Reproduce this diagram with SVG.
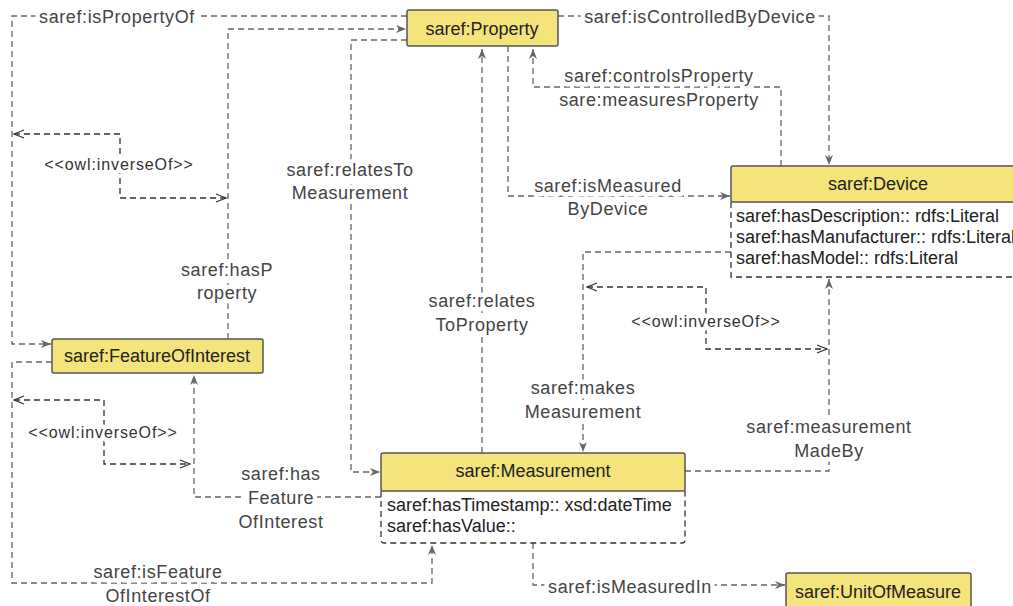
<svg xmlns="http://www.w3.org/2000/svg" width="1013" height="606" viewBox="0 0 1013 606">
<defs>
<marker id="arr" viewBox="0 0 10 10" refX="10" refY="5" markerWidth="10" markerHeight="10" markerUnits="userSpaceOnUse" orient="auto">
<path d="M0,1 L10,5 L0,9 L3,5 Z" fill="#666"/>
</marker>
<marker id="open" viewBox="0 0 12 10" refX="11" refY="5" markerWidth="12" markerHeight="10" markerUnits="userSpaceOnUse" orient="auto-start-reverse">
<path d="M1,1 L11,5 L1,9" fill="none" stroke="#333" stroke-width="1.3"/>
</marker>
<style>
.node{fill:#f5e47b;stroke:#555;stroke-width:1.5}
.body{fill:none;stroke:#333;stroke-width:1.3;stroke-dasharray:6 4}
.edge{fill:none;stroke:#666;stroke-width:1.3;stroke-dasharray:6 4;marker-end:url(#arr)}
.inv{fill:none;stroke:#333;stroke-width:1.3;stroke-dasharray:6 4;marker-start:url(#open);marker-end:url(#open)}
text{font-family:"Liberation Sans",Arial,sans-serif}
.nt{font-size:18px;fill:#222;text-anchor:middle}
.bt{font-size:18px;fill:#222}
.lb{font-size:18px;fill:#444;text-anchor:middle;letter-spacing:0.6px;paint-order:stroke;stroke:#fff;stroke-width:9px;stroke-linejoin:round}
.il{font-size:16px;fill:#333;text-anchor:middle;letter-spacing:0.9px;paint-order:stroke;stroke:#fff;stroke-width:9px;stroke-linejoin:round}
</style>
</defs>
<rect width="1013" height="606" fill="#fff"/>
<g id="connectors">
<path class="edge" d="M407,16 H12 V344 H51"/>
<path class="edge" d="M228,339 V29 H406"/>
<path class="edge" d="M407,40 H351 V472 H380"/>
<path class="edge" d="M482,453 V49"/>
<path class="edge" d="M508,46 V196 H730"/>
<path class="edge" d="M781,166 V87 H533 V49"/>
<path class="edge" d="M558,16 H829 V165"/>
<path class="edge" d="M731,252 H583 V452"/>
<path class="edge" d="M685,471 H829 V279"/>
<path class="edge" d="M381,497 H194 V375"/>
<path class="edge" d="M52,362 H12 V583 H432 V545"/>
<path class="edge" d="M533,543 V585 H785"/>
<path class="inv" d="M14,134 H120 V198 H226"/>
<path class="inv" d="M14,400 H104 V464 H190"/>
<path class="inv" d="M587,287 H706 V349 H827"/>
<text class="lb" x="117" y="23">saref:isPropertyOf</text>
<text class="lb" x="700" y="23">saref:isControlledByDevice</text>
<text class="lb" x="659" y="82">saref:controlsProperty</text>
<text class="lb" x="659" y="106">sare:measuresProperty</text>
<text class="lb" x="608" y="192">saref:isMeasured</text>
<text class="lb" x="608" y="215">ByDevice</text>
<text class="lb" x="350" y="176">saref:relatesTo</text>
<text class="lb" x="350" y="199">Measurement</text>
<text class="lb" x="227" y="276">saref:hasP</text>
<text class="lb" x="227" y="299">roperty</text>
<text class="lb" x="482" y="307">saref:relates</text>
<text class="lb" x="482" y="331">ToProperty</text>
<text class="lb" x="583" y="394">saref:makes</text>
<text class="lb" x="583" y="418">Measurement</text>
<text class="lb" x="829" y="433">saref:measurement</text>
<text class="lb" x="829" y="457">MadeBy</text>
<text class="lb" x="281" y="480">saref:has</text>
<text class="lb" x="281" y="504">Feature</text>
<text class="lb" x="281" y="528">OfInterest</text>
<text class="lb" x="158" y="578">saref:isFeature</text>
<text class="lb" x="158" y="602">OfInterestOf</text>
<text class="lb" x="630" y="593">saref:isMeasuredIn</text>
<text class="il" x="119" y="170">&lt;&lt;owl:inverseOf&gt;&gt;</text>
<text class="il" x="103" y="438">&lt;&lt;owl:inverseOf&gt;&gt;</text>
<text class="il" x="706" y="327">&lt;&lt;owl:inverseOf&gt;&gt;</text>
</g>
<g id="property">
<rect class="node" x="407" y="10" width="151" height="36" rx="2"/>
<text class="nt" x="482" y="35">saref:Property</text>
</g>
<g id="device">
<path class="body" d="M731,202 V277 H1020"/>
<rect class="node" x="731" y="166" width="300" height="36" rx="2"/>
<text class="nt" x="878" y="190">saref:Device</text>
<text class="bt" x="736" y="222">saref:hasDescription:: rdfs:Literal</text>
<text class="bt" x="736" y="243">saref:hasManufacturer:: rdfs:Literal</text>
<text class="bt" x="736" y="264">saref:hasModel:: rdfs:Literal</text>
</g>
<g id="featureOfInterest">
<rect class="node" x="52" y="339" width="211" height="34" rx="2"/>
<text class="nt" x="157" y="362">saref:FeatureOfInterest</text>
</g>
<g id="measurement">
<path class="body" d="M381,491 V540 Q381,543 384,543 H682 Q685,543 685,540 V491"/>
<rect class="node" x="381" y="453" width="304" height="38" rx="2"/>
<text class="nt" x="533" y="477">saref:Measurement</text>
<text class="bt" x="387" y="511">saref:hasTimestamp:: xsd:dateTime</text>
<text class="bt" x="387" y="532">saref:hasValue::</text>
</g>
<g id="unitOfMeasure">
<rect class="node" x="786" y="573" width="185" height="40" rx="2"/>
<text class="nt" x="878" y="598">saref:UnitOfMeasure</text>
</g>
</svg>
